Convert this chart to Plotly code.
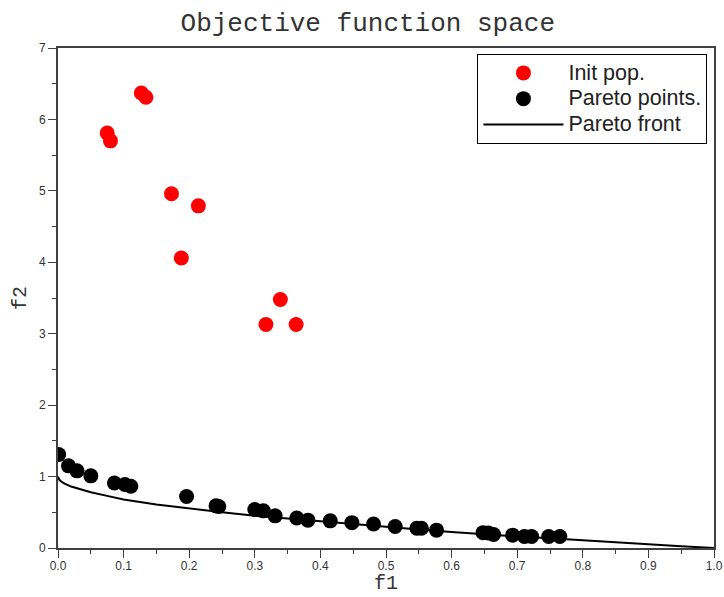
import plotly.graph_objects as go

# Initial population (f1, f2)
init_f1 = [0.075, 0.080, 0.127, 0.134, 0.173, 0.214, 0.188, 0.339, 0.317, 0.363]
init_f2 = [5.81, 5.70, 6.37, 6.31, 4.96, 4.79, 4.06, 3.48, 3.13, 3.13]

# Pareto points found
par_f1 = [0.001, 0.016, 0.029, 0.050, 0.086, 0.102, 0.111, 0.196, 0.241, 0.245,
          0.300, 0.313, 0.331, 0.364, 0.381, 0.415, 0.448, 0.481, 0.514, 0.547,
          0.554, 0.577, 0.648, 0.656, 0.664, 0.693, 0.711, 0.722, 0.748, 0.765]
par_f2 = [1.31, 1.15, 1.08, 1.01, 0.91, 0.89, 0.865, 0.72, 0.59, 0.58,
          0.54, 0.52, 0.45, 0.42, 0.39, 0.38, 0.355, 0.336, 0.30, 0.276,
          0.276, 0.25, 0.215, 0.21, 0.19, 0.18, 0.16, 0.16, 0.16, 0.16]

# Pareto front curve
front_f1 = [0.0, 0.002, 0.005, 0.01, 0.02, 0.03, 0.05, 0.075, 0.1, 0.15, 0.2, 0.25,
            0.3, 0.35, 0.4, 0.45, 0.5, 0.55, 0.6, 0.65, 0.7, 0.75, 0.8, 0.85,
            0.9, 0.95, 1.0]
front_f2 = [1.0, 0.955, 0.93, 0.90, 0.86, 0.83, 0.78, 0.73, 0.68, 0.61, 0.55, 0.50,
            0.45, 0.41, 0.37, 0.33, 0.29, 0.26, 0.225, 0.19, 0.16, 0.135, 0.105, 0.08,
            0.05, 0.025, 0.0]

x_ticks = [0.0, 0.1, 0.2, 0.3, 0.4, 0.5, 0.6, 0.7, 0.8, 0.9, 1.0]
y_ticks = [0, 1, 2, 3, 4, 5, 6, 7]

series_names = ["Init pop.", "Pareto points.", "Pareto front"]


def legend_label(s):
    return f'<span style="font-size:21.5px">{s}</span>'


fig = go.Figure()
fig.add_trace(go.Scatter(x=init_f1, y=init_f2, mode="markers",
                         name=legend_label(series_names[0]),
                         marker=dict(color="#ff0000", size=15)))
fig.add_trace(go.Scatter(x=par_f1, y=par_f2, mode="markers",
                         name=legend_label(series_names[1]),
                         marker=dict(color="#000000", size=15)))
fig.add_trace(go.Scatter(x=front_f1, y=front_f2, mode="lines",
                         name=legend_label(series_names[2]),
                         line=dict(color="#000000", width=2)))

axis_common = dict(showline=True, mirror=True, linecolor="#404040", linewidth=2,
                   ticks="outside", ticklen=8, tickcolor="#404040", tickwidth=1,
                   showgrid=False, zeroline=False, automargin=False,
                   tickfont=dict(family="Liberation Sans", size=12, color="#333333"))

fig.update_xaxes(range=[0, 1], tickvals=x_ticks,
                 ticktext=[f"{v:.1f}" for v in x_ticks],
                 ticklabelstandoff=-2,
                 minor=dict(dtick=0.05, tick0=0, ticks="outside", ticklen=4,
                            tickcolor="#404040"),
                 **axis_common)
fig.update_yaxes(range=[0, 7], tickvals=y_ticks,
                 ticktext=[str(v) for v in y_ticks],
                 minor=dict(dtick=0.5, tick0=0, ticks="outside", ticklen=4,
                            tickcolor="#404040"),
                 **axis_common)

title_font = dict(family="Liberation Mono", size=20, color="#333333")
fig.add_annotation(text="f1", xref="paper", yref="paper", x=0.5, y=-(596 - 548) / 500,
                   xanchor="center", yanchor="bottom", showarrow=False, borderpad=0,
                   font=title_font)
fig.add_annotation(text="f2", xref="paper", yref="paper", x=-0.058, y=0.5,
                   xanchor="center", yanchor="middle", textangle=-90, borderpad=0,
                   showarrow=False, font=title_font)

fig.update_layout(
    width=724, height=597,
    margin=dict(l=58, r=10, t=48, b=49),
    paper_bgcolor="white", plot_bgcolor="white",
    title=dict(text="Objective function space", x=0.508, xref="container", xanchor="center",
               y=1 - 22 / 597, yref="container", yanchor="middle",
               font=dict(family="Liberation Mono", size=26, color="#333333")),
    legend=dict(x=0.99, xanchor="right", y=0.988, yanchor="top",
                bordercolor="#000000", borderwidth=1, bgcolor="white",
                itemwidth=80, tracegroupgap=0,
                font=dict(family="Liberation Sans", size=17.5, color="#222222")),
    showlegend=True,
)

fig.write_html("out.html")
